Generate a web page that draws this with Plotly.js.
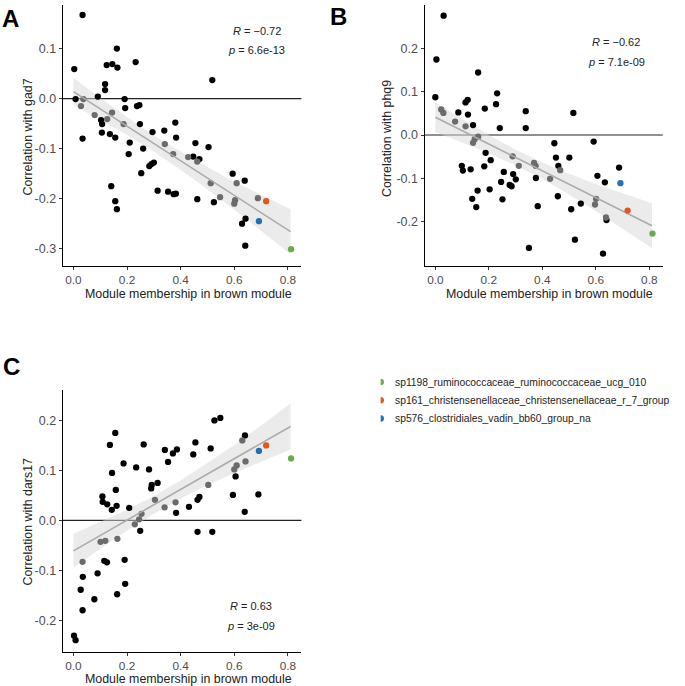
<!DOCTYPE html>
<html>
<head>
<meta charset="utf-8">
<script src="https://cdn.plot.ly/plotly-3.0.1.min.js"></script>
<style>
  html, body { margin: 0; padding: 0; background: #fff; }
  #chart { width: 685px; height: 686px; }
</style>
</head>
<body>
<div id="chart"></div>
<script>
// species highlighted in colour (same module membership in every panel)
var speciesNames = ['sp1198_ruminococcaceae_ruminococcaceae_ucg_010',
                    'sp161_christensenellaceae_christensenellaceae_r_7_group',
                    'sp576_clostridiales_vadin_bb60_group_na'];
var speciesColors = ['#6aac4b', '#e4561c', '#1f72b6'];
var speciesMM = [0.812, 0.719, 0.692];

// panel A - gad7 (black = outside band, grey = under the band)
var aBlackX = [0.034, 0.003, 0.162, 0.124, 0.145, 0.164, 0.232, 0.118, 0.118, 0.008, 0.091, 0.034, 0.103, 0.107, 0.106, 0.136, 0.156, 0.191, 0.193, 0.237, 0.246, 0.248, 0.210, 0.206, 0.260, 0.253, 0.295, 0.283, 0.291, 0.300, 0.141, 0.156, 0.162, 0.314, 0.339, 0.380, 0.383, 0.353, 0.374, 0.382, 0.518, 0.455, 0.504, 0.447, 0.470, 0.462, 0.524, 0.594, 0.639, 0.642, 0.629, 0.641];
var aBlackY = [0.167, 0.059, 0.100, 0.067, 0.069, 0.062, 0.073, 0.029, 0.017, -0.001, 0.004, -0.080, -0.043, -0.051, -0.068, -0.071, -0.078, -0.001, -0.019, -0.015, -0.013, -0.051, -0.088, -0.111, -0.100, -0.149, -0.067, -0.135, -0.131, -0.128, -0.175, -0.205, -0.221, -0.184, -0.064, -0.048, -0.078, -0.186, -0.191, -0.190, 0.037, -0.089, -0.097, -0.116, -0.121, -0.201, -0.207, -0.150, -0.164, -0.240, -0.250, -0.294];
var aGreyX = [0.028, 0.037, 0.079, 0.126, 0.144, 0.187, 0.341, 0.372, 0.428, 0.462, 0.512, 0.547, 0.609, 0.603, 0.600, 0.688];
var aGreyY = [-0.015, -0.001, -0.033, -0.041, -0.028, -0.051, -0.091, -0.111, -0.117, -0.126, -0.169, -0.197, -0.169, -0.203, -0.210, -0.199];
var aSpeciesY = [-0.301, -0.205, -0.245];

// panel B - phq9
var bBlackX = [0.031, 0.004, 0.000, 0.160, 0.086, 0.113, 0.121, 0.122, 0.141, 0.185, 0.231, 0.227, 0.241, 0.338, 0.338, 0.188, 0.207, 0.183, 0.099, 0.103, 0.132, 0.158, 0.138, 0.153, 0.203, 0.256, 0.246, 0.251, 0.278, 0.285, 0.291, 0.301, 0.350, 0.376, 0.383, 0.516, 0.445, 0.592, 0.451, 0.501, 0.460, 0.606, 0.634, 0.687, 0.458, 0.544, 0.508, 0.640, 0.522, 0.627];
var bBlackY = [0.275, 0.174, 0.087, 0.144, 0.052, 0.075, 0.081, 0.047, 0.023, 0.061, 0.096, 0.071, 0.016, 0.055, 0.016, -0.041, -0.058, -0.072, -0.071, -0.082, -0.079, -0.128, -0.147, -0.166, -0.125, -0.085, -0.108, -0.148, -0.115, -0.118, -0.090, -0.102, -0.260, -0.099, -0.164, 0.051, -0.019, -0.015, -0.052, -0.052, -0.071, -0.094, -0.109, -0.075, -0.141, -0.158, -0.171, -0.196, -0.241, -0.273];
var bGreyX = [0.022, 0.030, 0.074, 0.113, 0.141, 0.147, 0.160, 0.289, 0.312, 0.369, 0.375, 0.429, 0.467, 0.601, 0.597, 0.638];
var bGreyY = [0.059, 0.051, 0.031, 0.020, -0.018, -0.010, -0.004, -0.049, -0.071, -0.064, -0.071, -0.101, -0.081, -0.147, -0.160, -0.190];
var bSpeciesY = [-0.227, -0.174, -0.111];

// panel C - dars17
var cBlackX = [0.156, 0.136, 0.262, 0.341, 0.371, 0.386, 0.353, 0.187, 0.234, 0.282, 0.144, 0.292, 0.314, 0.290, 0.158, 0.108, 0.109, 0.126, 0.143, 0.161, 0.208, 0.383, 0.249, 0.115, 0.125, 0.191, 0.035, 0.090, 0.027, 0.078, 0.163, 0.193, 0.034, 0.002, 0.008, 0.526, 0.548, 0.455, 0.447, 0.512, 0.640, 0.605, 0.470, 0.463, 0.431, 0.595, 0.690, 0.639, 0.463, 0.518];
var cBlackY = [0.175, 0.151, 0.152, 0.141, 0.134, 0.142, 0.117, 0.114, 0.106, 0.102, 0.095, 0.071, 0.075, 0.064, 0.061, 0.048, 0.037, 0.032, 0.021, 0.029, 0.025, 0.015, -0.021, -0.081, -0.084, -0.079, -0.113, -0.106, -0.139, -0.158, -0.148, -0.127, -0.180, -0.231, -0.240, 0.200, 0.205, 0.156, 0.132, 0.144, 0.170, 0.088, 0.047, 0.041, 0.027, 0.051, 0.052, 0.017, -0.023, -0.023];
var cGreyX = [0.304, 0.340, 0.381, 0.254, 0.245, 0.229, 0.101, 0.119, 0.164, 0.034, 0.630, 0.642, 0.609, 0.600, 0.503];
var cGreyY = [0.041, 0.026, 0.036, 0.013, 0.002, -0.008, -0.043, -0.041, -0.037, -0.083, 0.160, 0.118, 0.110, 0.102, 0.071];
var cSpeciesY = [0.124, 0.150, 0.139];

// linear fits and their confidence bands
var fitX = [0, 0.81];
var fitA = [0.014, -0.266];
var fitB = [0.041, -0.209];
var fitC = [-0.061, 0.188];
var bandX = [0, 0.1, 0.2, 0.3, 0.4, 0.5, 0.6, 0.7, 0.81];
var bandAHi = [0.041, 0.001, -0.037, -0.074, -0.106, -0.137, -0.166, -0.192, -0.221];
var bandALo = [-0.013, -0.043, -0.073, -0.106, -0.142, -0.181, -0.222, -0.264, -0.311];
var bandBHi = [0.075, 0.037, 0.000, -0.034, -0.063, -0.089, -0.113, -0.134, -0.157];
var bandBLo = [0.007, -0.017, -0.042, -0.070, -0.101, -0.137, -0.175, -0.216, -0.261];
var bandCHi = [-0.027, -0.003, 0.021, 0.049, 0.080, 0.115, 0.151, 0.190, 0.234];
var bandCLo = [-0.095, -0.057, -0.021, 0.013, 0.044, 0.071, 0.095, 0.118, 0.142];

// tick labels
var xTicks = [0, 0.2, 0.4, 0.6, 0.8];
var xTickText = ['0.0', '0.2', '0.4', '0.6', '0.8'];
var yTicksA = [-0.3, -0.2, -0.1, 0, 0.1];
var yTickTextA = ['-0.3', '-0.2', '-0.1', '0.0', '0.1'];
var yTicksB = [-0.2, -0.1, 0, 0.1, 0.2, 0.3];
var yTickTextB = ['-0.2', '-0.1', '0.0', '0.1', '0.2', '0.3'];
var yTicksC = [-0.2, -0.1, 0, 0.1, 0.2];
var yTickTextC = ['-0.2', '-0.1', '0.0', '0.1', '0.2'];

var FONT = 'Liberation Sans, Arial, sans-serif';

function points(x, y, color, xa, ya) {
    return {
        x: x, y: y, xaxis: xa, yaxis: ya,
        type: 'scatter', mode: 'markers', hoverinfo: 'skip',
        marker: { color: color, size: 6.3, line: { width: 0 } }
    };
}

function band(hi, lo, xa, ya) {
    return {
        x: bandX.concat(bandX.slice().reverse()),
        y: hi.concat(lo.slice().reverse()),
        xaxis: xa, yaxis: ya,
        type: 'scatter', mode: 'lines', fill: 'toself', hoverinfo: 'skip',
        fillcolor: 'rgba(215,215,215,0.5)',
        line: { width: 0 }
    };
}

function fitLine(y, xa, ya) {
    return {
        x: fitX, y: y, xaxis: xa, yaxis: ya,
        type: 'scatter', mode: 'lines', hoverinfo: 'skip',
        line: { color: '#ababab', width: 1.6 }
    };
}

function panel(xa, ya, blackX, blackY, greyX, greyY, hi, lo, fit, spY) {
    return [
        band(hi, lo, xa, ya),
        points(blackX, blackY, '#000000', xa, ya),
        points(greyX, greyY, '#6b6b6b', xa, ya),
        fitLine(fit, xa, ya),
        {
            x: speciesMM, y: spY, xaxis: xa, yaxis: ya,
            type: 'scatter', mode: 'markers', hoverinfo: 'skip',
            marker: { color: speciesColors, size: 6.3, line: { width: 0 } }
        }
    ];
}

var data = []
    .concat(panel('x', 'y', aBlackX, aBlackY, aGreyX, aGreyY, bandAHi, bandALo, fitA, aSpeciesY))
    .concat(panel('x2', 'y2', bBlackX, bBlackY, bGreyX, bGreyY, bandBHi, bandBLo, fitB, bSpeciesY))
    .concat(panel('x3', 'y3', cBlackX, cBlackY, cGreyX, cGreyY, bandCHi, bandCLo, fitC, cSpeciesY));

// legend keys
data.push({
    x: [0, 0, 0], y: speciesNames, xaxis: 'x4', yaxis: 'y4',
    type: 'scatter', mode: 'markers', hoverinfo: 'skip',
    marker: { color: speciesColors, size: 6.5 }
});

function xAxis(domain, anchor) {
    return {
        domain: domain, anchor: anchor, range: [-0.0405, 0.8505],
        tickvals: xTicks, ticktext: xTickText,
        showline: true, linecolor: '#000', linewidth: 1,
        ticks: 'outside', ticklen: 3, tickwidth: 1, tickcolor: '#333',
        showgrid: false, zeroline: false,
        tickfont: { family: FONT, size: 11.8, color: '#4d4d4d' },
        fixedrange: true
    };
}

function yAxis(domain, anchor, range, vals, text) {
    return {
        domain: domain, anchor: anchor, range: range,
        tickvals: vals, ticktext: text,
        showline: true, linecolor: '#000', linewidth: 1,
        ticks: 'outside', ticklen: 3, tickwidth: 1, tickcolor: '#333',
        showgrid: false, zeroline: false,
        tickfont: { family: FONT, size: 12.5, color: '#4d4d4d' },
        fixedrange: true
    };
}

function hline(xref, yref) {
    return {
        type: 'line', layer: 'below', xref: xref + ' domain', yref: yref,
        x0: 0, x1: 1, y0: 0, y1: 0,
        line: { color: '#222', width: 1.2 }
    };
}

function label(text, x, y, size, extra) {
    var a = {
        text: text, xref: 'paper', yref: 'paper', x: x, y: y,
        xanchor: 'center', yanchor: 'middle', showarrow: false,
        font: { family: FONT, size: size, color: '#222' }
    };
    for (var k in extra) a[k] = extra[k];
    return a;
}

var W = 685, H = 686;
function px(v) { return v / W; }
function py(v) { return 1 - v / H; }

var annotations = [
    label('<b>A</b>', px(10), py(18), 24, { font: { family: FONT, size: 24, color: '#000' } }),
    label('<b>B</b>', px(338), py(17), 24, { font: { family: FONT, size: 24, color: '#000' } }),
    label('<b>C</b>', px(11.5), py(366.5), 24, { font: { family: FONT, size: 24, color: '#000' } }),

    label('<i>R</i> = \u22120.72', px(256.5), py(30.7), 11),
    label('<i>p</i> = 6.6e-13', px(256.5), py(50), 11),
    label('<i>R</i> = \u22120.62', px(616), py(41.7), 11),
    label('<i>p</i> = 7.1e-09', px(616), py(62.3), 11),
    label('<i>R</i> = 0.63', px(251), py(606), 11),
    label('<i>p</i> = 3e-09', px(251), py(626), 11),

    label('Module membership in brown module', px(188.8), py(294), 12.4),
    label('Module membership in brown module', px(549.3), py(294.3), 12.4),
    label('Module membership in brown module', px(188.8), py(679), 12.4),
    label('Correlation with gad7', px(27), py(137.5), 12.4, { textangle: -90 }),
    label('Correlation with phq9', px(387.5), py(138.5), 12.4, { textangle: -90 }),
    label('Correlation with dars17', px(27), py(521.5), 12.4, { textangle: -90 })
];

speciesNames.forEach(function (name) {
    annotations.push({
        text: name, xref: 'x4', yref: 'y4', x: 0, y: name,
        xanchor: 'left', yanchor: 'middle', xshift: 12.6, showarrow: false,
        font: { family: FONT, size: 10.3, color: '#222' }
    });
});

var layout = {
    width: W, height: H,
    margin: { l: 0, r: 0, t: 0, b: 0 },
    paper_bgcolor: '#fff', plot_bgcolor: '#fff',
    showlegend: false,
    font: { family: FONT },
    xaxis: xAxis([px(62.6), px(301.4)], 'y'),
    yaxis: yAxis([py(265.7), py(5)], 'x', [-0.334, 0.187], yTicksA, yTickTextA),
    xaxis2: xAxis([px(424.5), px(662.8)], 'y2'),
    yaxis2: yAxis([py(265.7), py(5)], 'x2', [-0.301, 0.2995], yTicksB, yTickTextB),
    xaxis3: xAxis([px(62.6), px(301.4)], 'y3'),
    yaxis3: yAxis([py(651.7), py(390)], 'x3', [-0.263, 0.261], yTicksC, yTickTextC),
    xaxis4: { domain: [px(380.7), 1], anchor: 'y4', range: [0, 1], visible: false, fixedrange: true },
    yaxis4: { domain: [py(427.6), py(372.9)], anchor: 'x4', type: 'category',
              range: [2.5, -0.5], visible: false, fixedrange: true },
    shapes: [hline('x', 'y'), hline('x2', 'y2'), hline('x3', 'y3')],
    annotations: annotations
};

Plotly.newPlot('chart', data, layout, { displayModeBar: false, staticPlot: true });
</script>
</body>
</html>
